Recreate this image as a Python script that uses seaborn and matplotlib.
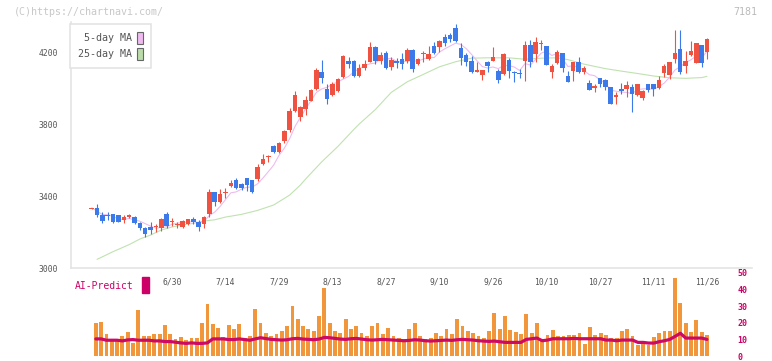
import numpy as np
import pandas as pd
import matplotlib
matplotlib.use("Agg")
import matplotlib.pyplot as plt
import seaborn as sns
from matplotlib.patches import Patch, Rectangle

# Precios diarios
opens = [3330, 3333, 3295, 3295, 3298, 3295, 3265, 3283, 3283, 3250,
         3220, 3228, 3226, 3220, 3298, 3254, 3241, 3226, 3243, 3272,
         3257, 3245, 3298, 3420, 3365, 3415, 3457, 3487, 3465, 3498,
         3487, 3495, 3576, 3618, 3678, 3646, 3706, 3765, 3874, 3841,
         3883, 3928, 3994, 4089, 3994, 3961, 3983, 4063, 4150, 4150,
         4069, 4113, 4146, 4228, 4152, 4194, 4115, 4150, 4161, 4150,
         4213, 4133, 4187, 4161, 4233, 4230, 4283, 4294, 4331, 4224,
         4183, 4150, 4091, 4072, 4143, 4152, 4094, 4080, 4156, 4091,
         4083, 4152, 4239, 4187, 4243, 4233, 4087, 4141, 4194, 4067,
         4096, 4144, 4087, 4028, 3998, 4056, 4044, 4006, 3948, 3994,
         3994, 4006, 3961, 3946, 4022, 4022, 4002, 4085, 4072, 4161,
         4217, 4122, 4183, 4141, 4239, 4202]
closes = [3335, 3294, 3263, 3290, 3254, 3257, 3283, 3293, 3248, 3220,
          3189, 3213, 3235, 3272, 3233, 3261, 3244, 3261, 3272, 3254,
          3228, 3283, 3420, 3369, 3409, 3418, 3472, 3446, 3446, 3461,
          3424, 3561, 3606, 3622, 3643, 3695, 3761, 3872, 3961, 3895,
          3933, 3989, 4100, 4058, 3941, 4022, 4048, 4178, 4133, 4067,
          4113, 4133, 4228, 4152, 4183, 4109, 4156, 4141, 4133, 4211,
          4107, 4161, 4194, 4187, 4196, 4261, 4252, 4272, 4263, 4165,
          4143, 4091, 4100, 4098, 4124, 4172, 4046, 4187, 4096, 4082,
          4076, 4239, 4146, 4257, 4250, 4130, 4122, 4200, 4113, 4035,
          4144, 4087, 4113, 3991, 4009, 4024, 4004, 3913, 3963, 3983,
          4017, 3969, 4022, 3985, 3991, 3994, 4044, 4122, 4144, 4194,
          4091, 4150, 4206, 4250, 4141, 4272]
highs = [3336, 3355, 3313, 3313, 3302, 3296, 3294, 3302, 3287, 3257,
         3228, 3254, 3243, 3276, 3313, 3276, 3257, 3267, 3274, 3283,
         3268, 3287, 3439, 3424, 3439, 3443, 3489, 3498, 3470, 3502,
         3491, 3576, 3631, 3628, 3683, 3702, 3767, 3891, 3983, 3902,
         3957, 3992, 4109, 4156, 4022, 4035, 4054, 4183, 4174, 4156,
         4133, 4156, 4257, 4233, 4202, 4207, 4172, 4169, 4194, 4220,
         4219, 4169, 4205, 4233, 4257, 4268, 4300, 4304, 4356, 4248,
         4196, 4178, 4146, 4103, 4150, 4229, 4104, 4194, 4165, 4096,
         4106, 4261, 4267, 4283, 4267, 4233, 4133, 4211, 4196, 4096,
         4144, 4172, 4122, 4044, 4022, 4056, 4050, 4006, 3976, 4028,
         4039, 4022, 4022, 3991, 4022, 4022, 4067, 4133, 4144, 4322,
         4322, 4205, 4261, 4250, 4239, 4278]
lows = [3330, 3285, 3248, 3267, 3248, 3255, 3248, 3280, 3243, 3211,
        3174, 3191, 3202, 3206, 3224, 3235, 3220, 3220, 3240, 3243,
        3206, 3220, 3283, 3343, 3360, 3391, 3450, 3439, 3433, 3428,
        3417, 3484, 3572, 3587, 3637, 3639, 3693, 3757, 3865, 3817,
        3850, 3926, 3989, 4026, 3911, 3954, 3976, 4057, 4113, 4061,
        4061, 4100, 4143, 4133, 4131, 4106, 4102, 4113, 4104, 4137,
        4087, 4128, 4146, 4156, 4191, 4202, 4235, 4257, 4257, 4128,
        4124, 4085, 4087, 4046, 4087, 4150, 4030, 4072, 4054, 4035,
        4058, 4041, 4118, 4146, 4213, 4128, 4057, 4133, 4091, 4035,
        4041, 4083, 4078, 3989, 3980, 4007, 3987, 3913, 3913, 3968,
        3948, 3869, 3956, 3935, 3980, 3957, 3996, 4061, 4050, 4141,
        4080, 4085, 4178, 4141, 4118, 4161]

ma25_idx = [1, 4, 7, 9, 11, 13, 15, 17, 19, 21, 23, 25, 28, 31, 34, 37, 39, 40,
            43, 46, 49, 50, 53, 56, 59, 62, 65, 68, 71, 74, 78, 81, 84, 87, 89,
            92, 96, 99, 102, 105, 108, 111, 114, 115]
ma25_val = [3048, 3091, 3130, 3161, 3183, 3211, 3228, 3239, 3248, 3261, 3268,
            3283, 3298, 3320, 3350, 3405, 3461, 3495, 3590, 3675, 3770, 3800,
            3880, 3976, 4035, 4076, 4118, 4146, 4166, 4168, 4168, 4160, 4166,
            4168, 4158, 4133, 4108, 4094, 4081, 4067, 4057, 4054, 4058, 4065]

# Panel inferior: volumen y AI-Predict
volume = [19.8, 20.3, 13.4, 10.1, 10.1, 12.2, 14.5, 7.8, 27.9, 12.2,
          12.2, 13.4, 13.4, 18.6, 13.4, 10.5, 11.6, 9.9, 11.0, 11.0,
          19.8, 31.4, 19.2, 16.9, 11.6, 18.6, 16.3, 19.2, 11.0, 12.2,
          28.5, 20, 14, 12, 13, 15, 18, 30, 22, 18,
          16, 15, 24, 41, 20, 15, 14, 22, 16, 18,
          14, 12, 18, 20, 13, 17, 12, 11, 10, 16,
          20, 12, 10, 11, 14, 12, 16, 13, 22, 18,
          15, 14, 12, 11, 15, 26, 16, 23.9, 15.5, 14.3,
          13.1, 25.5, 13.7, 19.6, 9.4, 12.4, 15.5, 12.0, 12.0, 12.5,
          12.5, 13.7, 7.3, 17.3, 12.5, 13.7, 12.5, 10.8, 10.8, 14.9,
          16.1, 12.0, 6.7, 7.8, 6.7, 11.4, 13.7, 14.9, 15.0, 46.7,
          32.2, 19.6, 14.3, 21.6, 14.3, 12.5]
ai_pred = [10.3, 10.3, 9.5, 9.5, 9.5, 9.1, 9.7, 9.9, 9.5, 9.5,
           9.5, 9.1, 9.1, 8.7, 8.7, 8.3, 7.9, 7.6, 7.9, 7.6,
           7.6, 7.9, 10.3, 10.3, 10.3, 9.9, 9.9, 10.3, 9.9, 9.5,
           10.3, 11.0, 10.5, 10.0, 9.8, 9.6, 9.8, 10.4, 10.6, 10.2,
           10.0, 9.8, 10.2, 11.2, 11.0, 10.6, 10.2, 10.0, 10.4, 10.6,
           10.2, 9.8, 9.6, 9.8, 10.0, 9.8, 9.6, 9.4, 9.2, 9.4,
           9.8, 9.6, 9.2, 9.0, 9.2, 9.4, 9.6, 9.4, 9.8, 10.0,
           9.8, 9.6, 9.2, 9.0, 8.8, 9.0, 8.6, 8.2, 8.2, 8.2,
           8.2, 10.0, 10.4, 10.8, 9.2, 9.6, 10.4, 10.4, 10.4, 10.4,
           10.6, 10.4, 10.4, 10.4, 10.4, 10.4, 9.6, 9.6, 9.2, 9.6,
           9.6, 9.6, 8.2, 8.2, 7.8, 7.8, 8.6, 9.2, 10.0, 11.8,
           13.7, 10.8, 10.8, 10.8, 10.8, 10.0]

date_labels = ['6/30', '7/14', '7/29', '8/13', '8/27', '9/10', '9/26',
               '10/10', '10/27', '11/11', '11/26']
date_idx = [15, 25, 35, 45, 55, 65, 75, 85, 95, 105, 115]

sns.set_style("white")
plt.rcParams['font.family'] = ['DejaVu Sans Mono']

W, H = 772, 361
fig = plt.figure(figsize=(W / 100, H / 100), dpi=100)
ax = fig.add_axes([71 / W, 1 - 268 / H, 681 / W, 246 / H])
axv = fig.add_axes([71 / W, 1 - 356 / H, 662 / W, 83 / H])

df = pd.DataFrame(dict(i=np.arange(len(closes)), o=opens, h=highs, l=lows, c=closes))
df['ma5'] = df.c.rolling(5, min_periods=1).mean()
RED, BLUE = '#f05242', '#3d7ae9'
cols = np.where(df.c >= df.o, RED, BLUE)

# Medias móviles
ma25 = pd.DataFrame(dict(i=ma25_idx, v=ma25_val))
sns.lineplot(data=ma25, x='i', y='v', color='#c0e2b0', lw=0.8, ax=ax, zorder=1)
sns.lineplot(data=df, x='i', y='ma5', color='#eebcee', lw=0.8, ax=ax, zorder=1)

# Velas
ax.vlines(df.i, df.l, df.h, colors=cols, lw=0.8, zorder=2)
ax.bar(df.i, np.maximum((df.c - df.o).abs(), 6), bottom=np.minimum(df.o, df.c),
       width=0.85, color=cols, lw=0, zorder=3)

ax.set_xlim(-3.87, 123.42)
ax.set_ylim(3000, 4367)
ax.set_xlabel('')
ax.set_ylabel('')
ax.set_yticks([3000, 3400, 3800, 4200])
ax.tick_params(axis='y', direction='out', length=5, width=1, color='#dddddd',
               labelsize=5.8, labelcolor='#555555', pad=4)
ax.set_xticks(np.linspace(-3.87, 123.42, 12))
ax.set_xticklabels([])
ax.tick_params(axis='x', which='major', direction='inout', length=6, width=1,
               color='#dddddd')
ax.set_xticks(date_idx, minor=True)
ax.set_xticklabels(date_labels, minor=True)
ax.tick_params(axis='x', which='minor', length=0, labelsize=5.8,
               labelcolor='#555555', pad=7)
for s in ['top', 'right']:
    ax.spines[s].set_visible(False)
for s in ['left', 'bottom']:
    ax.spines[s].set_color('#e2e2e2')
    ax.spines[s].set_linewidth(1.1)

handles = [Patch(facecolor='#efbaef', edgecolor='#666666', lw=0.8),
           Patch(facecolor='#badcab', edgecolor='#666666', lw=0.8)]
leg = ax.legend(handles, ['5-day MA', '25-day MA'], loc='upper left',
                bbox_to_anchor=(70 / W, 1 - 24 / H), bbox_transform=fig.transFigure,
                borderaxespad=0, markerfirst=False, handlelength=0.6,
                handleheight=1.5, handletextpad=0.5, labelspacing=0.35,
                borderpad=0.8, fontsize=7.2, labelcolor='#555555',
                fancybox=False, framealpha=1, edgecolor='#e2e2e2')
leg.get_frame().set_linewidth(1.1)

# Panel inferior
vd = pd.DataFrame(dict(i=np.arange(len(volume)), v=volume, a=ai_pred))
axv.bar(vd.i, vd.v, width=0.72, color='#f1963b', lw=0, zorder=1)
sns.lineplot(data=vd, x='i', y='a', color='#cc0a66', lw=2.3, ax=axv, zorder=2)
axv.set_xlim(-4.67, 119.9)
axv.set_ylim(0, 50)
axv.set_xlabel('')
axv.set_ylabel('')
axv.set_xticks([])
axv.yaxis.tick_right()
axv.set_yticks([0, 10, 20, 30, 40, 50])
axv.tick_params(axis='y', length=0, labelsize=6, labelcolor='#cc0066', pad=3)
for t in axv.get_yticklabels():
    t.set_fontweight('bold')
for s in axv.spines.values():
    s.set_visible(False)
axv.patch.set_alpha(0)

fig.text(75 / W, 1 - 286 / H, 'AI-Predict', color='#cc0066', fontsize=7, va='center')
fig.patches.append(Rectangle((142 / W, 1 - 293 / H), 7 / W, 16 / H,
                             transform=fig.transFigure, color='#cc0066'))
fig.text(14 / W, 1 - 12 / H, '(C)https://chartnavi.com/', color='#c8c8c8',
         fontsize=7.2, va='center')
fig.text(757 / W, 1 - 12 / H, '7181', color='#bbbbbb', fontsize=7.2,
         va='center', ha='right')

fig.savefig('out.png', dpi=100)
